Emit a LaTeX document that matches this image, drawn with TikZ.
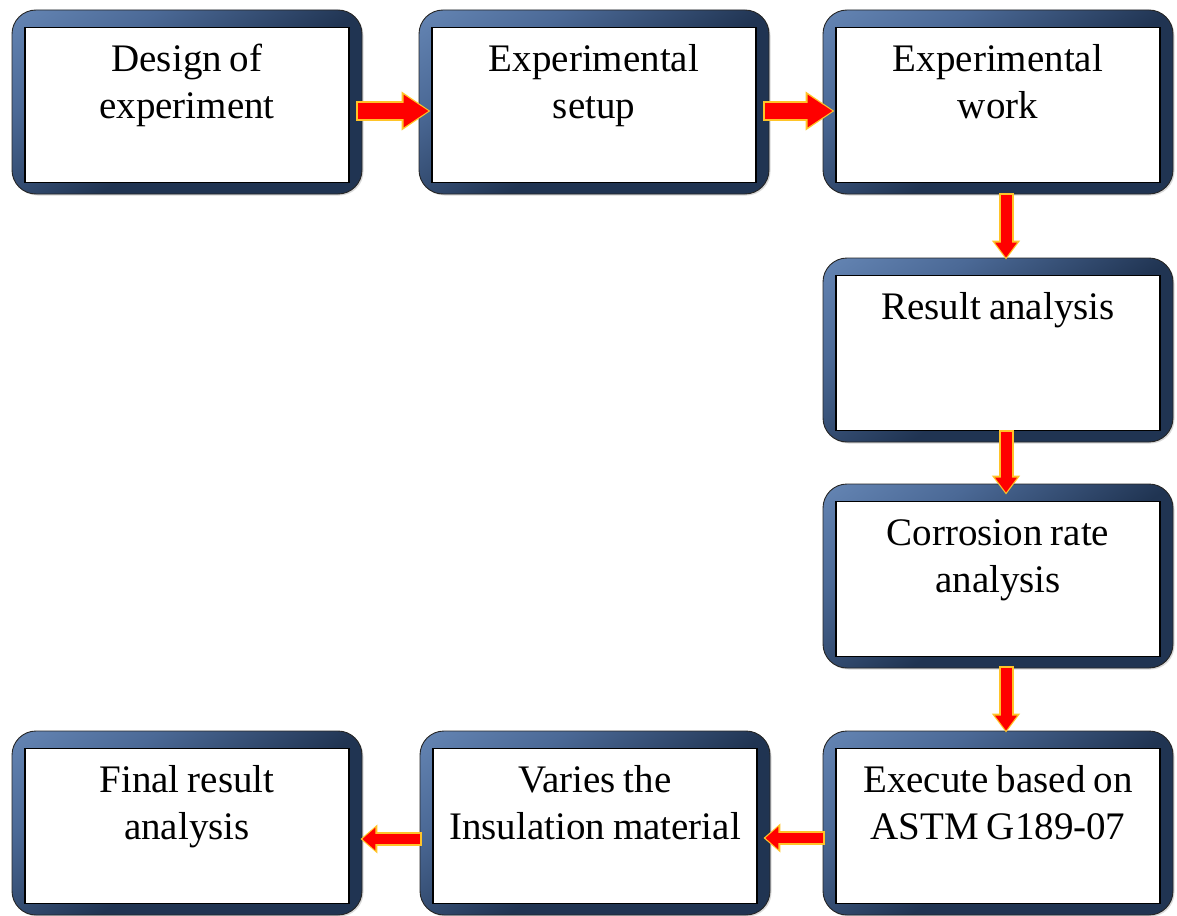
\documentclass[tikz,border=0pt]{standalone}
\usepackage{fontspec}
\setmainfont{Liberation Serif}
\usetikzlibrary{arrows.meta,shadows}
\definecolor{boxlight}{RGB}{125,160,208}
\definecolor{boxmid}{RGB}{75,105,150}
\definecolor{boxdark}{RGB}{32,52,82}
\definecolor{glow}{RGB}{255,196,40}
\definecolor{arrred}{RGB}{255,0,0}
\pgfdeclareverticalshading{boxshade}{100bp}{color(0bp)=(boxdark); color(45bp)=(boxdark); color(68bp)=(boxmid); color(100bp)=(boxlight)}
\newcommand{\tightspace}{\spaceskip=8pt\relax}
\begin{document}
\begin{tikzpicture}[x=1pt,y=-1pt]
\useasboundingbox (0,0) rectangle (1177,915);
\tikzset{
  outerbox/.style={rounded corners=24pt, draw=black!85, line width=0.9pt,
    shade, shading=boxshade, shading angle=35,
    minimum width=350pt, minimum height=184pt, inner sep=0pt,
    drop shadow={shadow xshift=1.5pt, shadow yshift=-1.5pt, opacity=0.3}},
  innerbox/.style={draw=black, line width=1.3pt, fill=white,
    minimum width=324pt, minimum height=155pt, inner sep=0pt},
  boxtext/.style={font=\fontsize{39}{47}\selectfont, align=center, text width=345pt,
    anchor=base, inner sep=0pt, text=black},
  glowline/.style={draw=glow, line cap=butt},
  redline/.style={draw=arrred, line cap=butt}
}
\foreach \n/\x/\y/\t in {
  b1/187/102/{Design of\\experiment},
  b2/594/102/{Experimental\\setup},
  b3/998/102/{Experimental\\work},
  b4/998/350/{Result analysis},
  b5/998/576/{Corrosion rate\\analysis},
  b6/998/823/{Execute based on\\ASTM G189-07},
  b7/595/823/{Varies the\\Insulation material},
  b8/187/823/{Final result\\analysis}} {
  \node[outerbox] (\n) at (\x,\y) {};
  \node[innerbox] (\n-in) at ([yshift=-3pt]\n.center) {};
  \node[boxtext] (\n-txt) at ([yshift=-62pt]\n.north) {\tightspace\t};
}
% top row arrows (right)
\foreach \a/\b in {b1/b2, b2/b3} {
  \draw[glowline, line width=20pt, -{Triangle[length=29pt,width=37pt]}, shorten <=-6pt, shorten >=-12pt]
    ([yshift=-9pt]\a.east) -- ([yshift=-9pt]\b.west);
  \draw[redline, line width=16pt, -{Triangle[length=25pt,width=31pt]}, shorten <=-4pt, shorten >=-10pt]
    ([yshift=-9pt]\a.east) -- ([yshift=-9pt]\b.west);
}
% vertical arrows (down)
\draw[glowline, line width=15pt, -{Triangle[length=19pt,width=27pt]}, shorten <=-1pt, shorten >=-2pt]
  ([xshift=8pt]b3.south) -- ([xshift=8pt]b4.north);
\draw[redline, line width=11pt, -{Triangle[length=15pt,width=21pt]}, shorten <=1pt]
  ([xshift=8pt]b3.south) -- ([xshift=8pt]b4.north);
\draw[glowline, line width=15pt, -{Triangle[length=19pt,width=27pt]}, shorten <=-12pt, shorten >=-11pt]
  ([xshift=8pt]b4.south) -- ([xshift=8pt]b5.north);
\draw[redline, line width=11pt, -{Triangle[length=15pt,width=21pt]}, shorten <=-10pt, shorten >=-9pt]
  ([xshift=8pt]b4.south) -- ([xshift=8pt]b5.north);
\draw[glowline, line width=15pt, -{Triangle[length=19pt,width=27pt]}, shorten <=-2pt, shorten >=-2pt]
  ([xshift=8pt]b5.south) -- ([xshift=8pt]b6.north);
\draw[redline, line width=11pt, -{Triangle[length=15pt,width=21pt]}]
  ([xshift=8pt]b5.south) -- ([xshift=8pt]b6.north);
% bottom row arrows (left)
\draw[glowline, line width=14pt, -{Triangle[length=17pt,width=28pt]}, shorten <=-2pt, shorten >=-7pt]
  ([yshift=-15pt]b6.west) -- ([yshift=-15pt]b7.east);
\draw[redline, line width=10pt, -{Triangle[length=13pt,width=22pt]}, shorten >=-5pt]
  ([yshift=-15pt]b6.west) -- ([yshift=-15pt]b7.east);
\draw[glowline, line width=14pt, -{Triangle[length=17pt,width=28pt]}, shorten <=-2pt, shorten >=-2pt]
  ([yshift=-16pt]b7.west) -- ([yshift=-16pt]b8.east);
\draw[redline, line width=10pt, -{Triangle[length=13pt,width=22pt]}]
  ([yshift=-16pt]b7.west) -- ([yshift=-16pt]b8.east);
\end{tikzpicture}
\end{document}
